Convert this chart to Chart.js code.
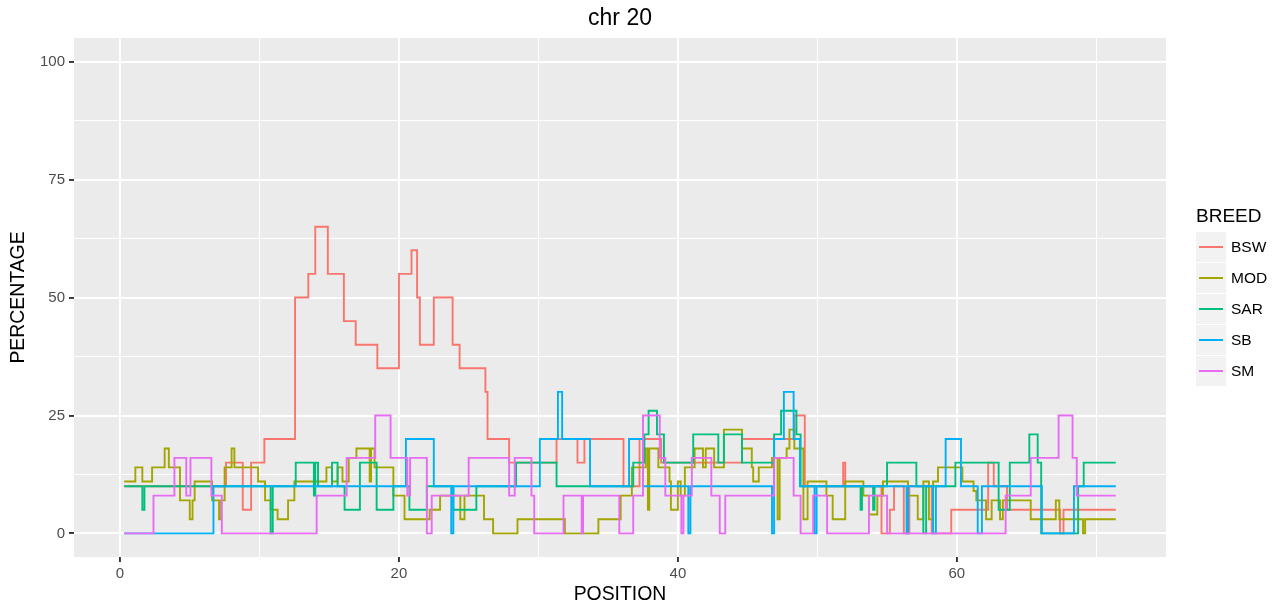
<!DOCTYPE html>
<html>
<head>
<meta charset="utf-8">
<script src="https://cdn.jsdelivr.net/npm/chart.js@4.4.0/dist/chart.umd.min.js"></script>
<style>
  html, body { margin: 0; padding: 0; background: #fff; }
  #wrap { width: 1276px; height: 610px; }
</style>
</head>
<body>
<div id="wrap"><canvas id="chart" width="1276" height="610"></canvas></div>
<script>
// chr 20 - breed percentage along the chromosome (ggplot look, step lines)
const FONT = '"Liberation Sans", Arial, Helvetica, sans-serif';

const breeds = ['BSW', 'MOD', 'SAR', 'SB', 'SM'];
const colors = ['#F8766D', '#A3A500', '#00BF7D', '#00B0F6', '#E76BF3'];

const xTicks = [0, 10, 20, 30, 40, 50, 60, 70];
const xLabels = [0, 20, 40, 60];
const yTicks = [0, 12.5, 25, 37.5, 50, 62.5, 75, 87.5, 100];
const yLabels = [0, 25, 50, 75, 100];

// each value holds from its position up to the next position
const bswPos = [0.3, 7.6, 8.8, 9.4, 10.35, 12.55, 13.5, 14.0, 14.9, 16.05, 16.9, 18.45, 20.0, 20.9, 21.3, 21.5, 22.5, 23.85, 24.35, 26.2, 26.35, 27.9, 31.3, 32.8, 33.3, 36.1, 37.25, 38.8, 44.6, 48.35, 49.1, 51.85, 52.0, 54.6, 55.2, 55.5, 56.2, 56.6, 58.2, 59.6, 62.25, 62.65, 63.6, 67.4, 67.65, 71.4];
const bswVal = [10, 15, 5, 15, 20, 50, 55, 65, 55, 45, 40, 35, 55, 60, 50, 40, 50, 40, 35, 30, 20, 15, 20, 15, 20, 10, 20, 15, 20, 25, 10, 15, 10, 0, 5, 10, 0, 10, 0, 5, 15, 10, 5, 0, 5, 5];

const modPos = [0.3, 1.1, 1.6, 2.3, 3.2, 3.5, 4.3, 5.0, 5.2, 5.35, 6.6, 7.1, 7.25, 7.5, 8.0, 8.2, 9.9, 10.4, 10.8, 11.3, 12.05, 12.5, 14.8, 15.2, 15.6, 15.95, 16.4, 16.95, 17.9, 18.0, 18.25, 19.6, 20.4, 22.2, 22.95, 24.4, 24.7, 26.1, 26.75, 28.5, 31.9, 34.3, 35.9, 36.7, 37.7, 37.85, 37.95, 38.6, 39.4, 39.5, 40.0, 40.2, 40.5, 41.2, 41.8, 42.0, 42.6, 43.3, 44.6, 45.3, 45.4, 45.8, 46.75, 47.15, 47.3, 47.8, 48.0, 48.35, 49.0, 49.3, 50.65, 51.1, 52.0, 53.3, 53.7, 54.3, 54.7, 56.5, 57.2, 57.6, 58.0, 58.3, 58.65, 60.4, 61.2, 61.4, 62.1, 62.5, 63.1, 63.3, 65.3, 67.1, 67.35, 69.05, 69.2, 71.4];
const modVal = [11, 14, 11, 14, 18, 14, 7, 3, 7, 11, 7, 3, 7, 14, 18, 14, 11, 7, 5, 3, 7, 11, 14, 11, 14, 11, 16, 18, 11, 18, 14, 8, 3, 5, 8, 3, 8, 3, 0, 3, 0, 3, 8, 14, 18, 5, 18, 14, 11, 5, 11, 8, 14, 18, 14, 18, 14, 22, 18, 14, 11, 14, 16, 3, 16, 18, 22, 18, 3, 11, 8, 3, 11, 8, 4, 8, 11, 8, 3, 11, 3, 11, 14, 11, 9, 7, 3, 7, 3, 7, 3, 7, 3, 0, 3, 3];

const sarPos = [0.3, 1.6, 1.75, 10.8, 10.95, 12.6, 13.9, 14.0, 14.2, 15.2, 15.6, 16.1, 17.2, 18.4, 19.6, 20.75, 22.0, 23.9, 25.55, 28.4, 31.3, 36.8, 37.6, 37.9, 38.5, 39.0, 41.1, 42.9, 43.3, 44.6, 46.9, 47.4, 48.5, 48.8, 53.1, 53.2, 54.0, 54.1, 55.0, 57.1, 57.6, 57.8, 59.9, 63.0, 63.8, 65.2, 65.8, 66.05, 68.7, 69.1, 71.4];
const sarVal = [10, 5, 10, 0, 10, 15, 8, 15, 10, 15, 10, 5, 15, 5, 10, 5, 10, 5, 10, 15, 10, 15, 21, 26, 21, 15, 21, 15, 21, 15, 21, 26, 21, 10, 5, 10, 5, 10, 15, 10, 0, 10, 15, 5, 15, 21, 15, 0, 10, 15, 15];

const sbPos = [0.3, 6.7, 20.5, 22.5, 23.75, 23.9, 30.1, 31.4, 31.7, 33.7, 36.5, 37.5, 40.75, 40.9, 46.75, 46.9, 47.6, 48.3, 48.75, 49.8, 49.95, 56.4, 56.5, 58.3, 58.5, 59.2, 60.3, 61.5, 61.8, 66.1, 68.4, 71.4];
const sbVal = [0, 10, 20, 10, 0, 10, 20, 30, 20, 10, 20, 10, 0, 10, 0, 20, 30, 20, 10, 0, 10, 0, 10, 0, 10, 20, 10, 0, 10, 0, 10, 10];

const smPos = [0.3, 2.4, 3.9, 4.75, 5.05, 6.55, 7.3, 14.1, 16.25, 18.3, 19.4, 20.6, 20.8, 22.0, 22.35, 25.0, 27.9, 28.3, 29.5, 29.7, 31.8, 33.1, 33.2, 35.8, 36.8, 37.5, 38.7, 39.1, 40.25, 40.4, 41.0, 42.4, 43.0, 43.4, 46.9, 48.3, 48.8, 49.7, 50.7, 53.7, 55.0, 63.5, 65.3, 67.3, 68.3, 68.6, 71.4];
const smVal = [0, 8, 16, 8, 16, 8, 0, 8, 16, 25, 16, 8, 16, 0, 8, 16, 8, 16, 8, 0, 8, 0, 8, 0, 8, 25, 16, 8, 0, 8, 16, 8, 0, 8, 16, 8, 0, 8, 0, 8, 0, 8, 16, 25, 16, 8, 8];

const positions = [bswPos, modPos, sarPos, sbPos, smPos];
const values = [bswVal, modVal, sarVal, sbVal, smVal];

const panelBg = {
  id: 'panelBg',
  beforeDraw(chart) {
    const a = chart.chartArea, c = chart.ctx;
    c.save();
    c.fillStyle = '#EBEBEB';
    c.fillRect(a.left, a.top, a.right - a.left, a.bottom - a.top);
    c.restore();
  }
};

// ggplot style legend on the right
const breedLegend = {
  id: 'breedLegend',
  afterDraw(chart) {
    const c = chart.ctx;
    c.save();
    c.textBaseline = 'middle';
    c.textAlign = 'left';
    c.fillStyle = '#000';
    c.font = '19px ' + FONT;
    c.fillText('BREED', 1196, 217);
    chart.data.datasets.forEach((ds, i) => {
      const cy = 247 + i * 31;
      c.fillStyle = '#F2F2F2';
      c.fillRect(1196, cy - 15, 30, 30);
      c.strokeStyle = ds.borderColor;
      c.lineWidth = 2;
      c.beginPath(); c.moveTo(1199, cy); c.lineTo(1223, cy); c.stroke();
      c.fillStyle = '#000';
      c.font = '15.5px ' + FONT;
      c.fillText(ds.label, 1231, cy + 1);
    });
    c.restore();
  }
};

const datasets = breeds.map((b, i) => ({
  label: b,
  data: positions[i].map((x, j) => ({ x: x, y: values[i][j] })),
  borderColor: colors[i],
  backgroundColor: colors[i],
  borderWidth: 1.9,
  pointRadius: 0,
  stepped: 'before',
  fill: false,
  order: breeds.length - i
}));

new Chart(document.getElementById('chart'), {
  type: 'line',
  data: { datasets: datasets },
  options: {
    responsive: false,
    animation: false,
    layout: { padding: { left: 0, right: 110, top: 0, bottom: 0 } },
    plugins: {
      legend: { display: false },
      tooltip: { enabled: false },
      title: {
        display: true, text: 'chr 20', color: '#000', fullSize: false,
        font: { family: FONT, size: 23, weight: 'normal' },
        padding: { top: 5, bottom: 5.4 }
      }
    },
    scales: {
      x: {
        type: 'linear', min: -3.3, max: 75,
        afterBuildTicks: s => { s.ticks = xTicks.map(v => ({ value: v })); },
        afterFit: s => { s.height = 53; },
        border: { display: false },
        grid: {
          color: '#FFFFFF',
          lineWidth: ctx => (xLabels.includes(ctx.tick.value) ? 1.9 : 1.0),
          tickColor: ctx => (xLabels.includes(ctx.tick.value) ? '#333333' : 'rgba(0,0,0,0)'),
          tickLength: 5, tickWidth: 1.9
        },
        ticks: {
          autoSkip: false, maxRotation: 0, padding: 3, color: '#4D4D4D',
          font: { family: FONT, size: 15 },
          callback: v => (xLabels.includes(v) ? String(v) : '')
        },
        title: {
          display: true, text: 'POSITION', color: '#000',
          font: { family: FONT, size: 19.4 }, padding: { top: 0, bottom: 4 }
        }
      },
      y: {
        type: 'linear', min: -5, max: 105,
        afterBuildTicks: s => { s.ticks = yTicks.map(v => ({ value: v })); },
        afterFit: s => { s.width = 74; },
        border: { display: false },
        grid: {
          color: '#FFFFFF',
          lineWidth: ctx => (yLabels.includes(ctx.tick.value) ? 1.9 : 1.0),
          tickColor: ctx => (yLabels.includes(ctx.tick.value) ? '#333333' : 'rgba(0,0,0,0)'),
          tickLength: 5, tickWidth: 1.9
        },
        ticks: {
          autoSkip: false, padding: 4, color: '#4D4D4D',
          font: { family: FONT, size: 15 },
          callback: v => (yLabels.includes(v) ? String(v) : '')
        },
        title: {
          display: true, text: 'PERCENTAGE', color: '#000',
          font: { family: FONT, size: 19.4 }, padding: { top: 7, bottom: 0 }
        }
      }
    }
  },
  plugins: [panelBg, breedLegend]
});
</script>
</body>
</html>
